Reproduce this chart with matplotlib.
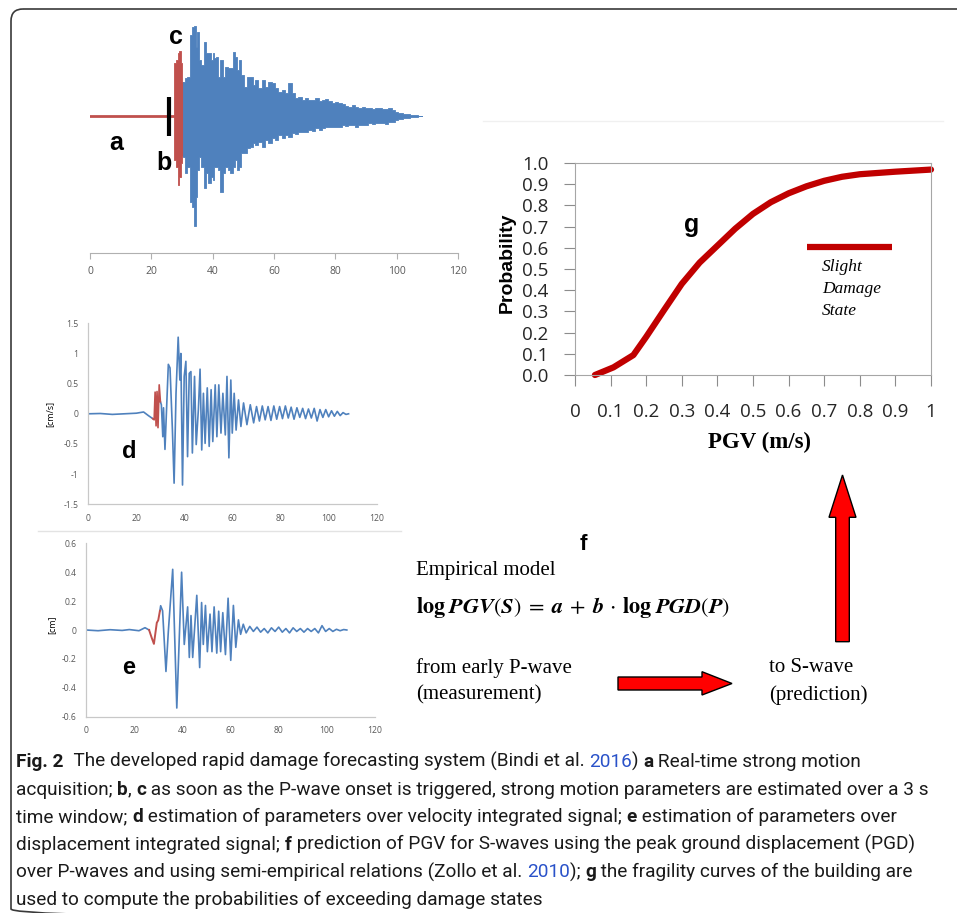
import matplotlib
matplotlib.use('Agg')
import matplotlib.pyplot as plt
from matplotlib import font_manager
from matplotlib.patches import FancyBboxPatch, Polygon
import numpy as np

# ---- data ----
# panel a/b/c: acceleration envelope (arbitrary units, 0 = baseline)
pre_t = [0, 27.2]
pre_v = [0, 0]
trigger_t = 25.8
burst_t = [27.2, 27.7, 28.3, 28.8, 29.3, 29.9, 30.4]
burst_up = [0, 52.7, 56, 62.7, 65.3, 52.7, 34]
burst_lo = [0, -44, -50.7, -69, -60.7, -47.3, -40]
env_t = [30.4, 31.3, 32.1, 32.8, 33.5, 34.2, 34.8, 35.3, 35.9, 36.7, 37.5, 38.0, 38.9, 39.7,
         40.2, 40.8, 41.5, 42.2, 42.9, 43.7, 44.6, 45.4, 46.2, 47.0, 47.6, 48.4, 48.9, 49.8,
         50.5, 51.6, 52.7, 53.3, 54.3, 55.4, 56.5, 57.6, 58.7, 59.8, 60.9, 62.0, 63.0, 64.1,
         65.2, 66.3, 67.4, 68.5, 69.6, 70.7, 71.7, 72.8, 74.1, 75.0, 76.1, 77.2, 78.3, 79.3,
         80.4, 81.5, 82.6, 83.7, 84.8, 85.9, 87.0, 88.0, 89.1, 90.2, 91.3, 92.4, 93.5, 94.6,
         95.7, 96.7, 97.8, 98.9, 100.0, 101.1, 103.3, 105.4, 108.2]
env_up = [34.3, 37.7, 39.3, 81, 89.3, 90, 69.3, 84.3, 56, 51, 74.3, 62.7, 62.7, 56,
          62.7, 57.7, 59.3, 39.3, 56, 39.3, 49.3, 47.7, 47.7, 64.3, 59.3, 46, 56, 41,
          29.3, 39.3, 39.3, 31, 36, 27.7, 36, 29.3, 34.3, 32.7, 27.7, 24.3, 26, 22.7,
          32.7, 22.7, 17.7, 18.7, 16, 17.7, 16, 16, 17.7, 15.3, 16, 16.7, 15.3, 13.3,
          14.3, 12.7, 11.7, 10, 9.3, 11, 9.3, 8, 8.7, 7.7, 7.7, 7, 7.7, 8.3,
          6.7, 7.3, 7.7, 6, 4.3, 3.3, 2, 1, 0]
env_lo = [-40.7, -57.3, -50.7, -85.7, -90.7, -110, -80.7, -54, -40.7, -50.7, -72.3, -57.3, -67.3, -60.7,
          -64, -50.7, -50.7, -54, -75.7, -57.3, -50.7, -54, -57.3, -50.7, -44, -54, -50.7, -37.3,
          -37.3, -32.3, -30.7, -27.3, -29, -25.7, -30.7, -24, -27.3, -22.3, -24, -19, -22.3, -19,
          -20.7, -17.3, -18, -15.7, -15.7, -15.7, -14, -14.7, -12.3, -14, -12.3, -11.3, -11.3, -10.7,
          -10.7, -10.7, -9, -10, -9, -9, -11.3, -9, -9, -9, -7.3, -8, -7.3, -6.7,
          -6.7, -8, -5.7, -5.7, -4, -3.3, -2.3, -1.3, 0]

# panel d: velocity [cm/s]
vel_pre_t = [0, 5, 10, 15, 20, 23, 25, 26.8]
vel_pre_v = [0, 0.005, -0.01, 0.0, 0.01, 0.03, -0.03, -0.08]
vel_red_t = [26.8, 27.4, 27.8, 28.2, 28.6, 29.0, 29.5, 30.0]
vel_red_v = [-0.08, -0.1, 0.36, -0.2, 0.37, -0.23, 0.48, 0.2]
vel_t = [30.0, 30.4, 31.0, 31.3, 31.9, 33.3, 34.0, 35.0, 35.7, 36.5, 37.4, 38.1, 38.5, 39.2,
         39.9, 40.6, 41.3, 42.0, 42.7, 43.3, 44.2, 44.9, 45.8, 46.5, 47.2, 47.9, 48.6, 49.5,
         50.3, 51.1, 51.8, 52.8, 53.5, 54.3, 55.2, 56.0, 57.0, 57.7, 58.5, 59.3, 59.9, 60.7,
         61.5, 62.5, 63.5, 64.6, 66.0, 67.4, 68.8, 70.0, 71.2, 72.4, 73.6, 74.8, 76.0, 77.2,
         78.4, 79.6, 80.8, 82.0, 83.2, 84.4, 85.6, 86.8, 88.0, 89.2, 90.4, 91.6, 92.8, 94.0,
         95.2, 96.4, 97.6, 98.8, 100.0, 101.2, 102.4, 103.6, 104.8, 106.0, 107.2, 108.3]
vel_v = [0.2, 0.15, -0.38, 0.1, -0.59, 0.82, 0.76, -0.27, -1.15, 0.34, 1.27, 0.56, 1.0, -1.18,
         0.62, 0.87, -0.71, 0.67, 0.70, -0.65, 0.62, -0.51, 0.07, 0.74, -0.60, 0.34, -0.49, 0.43,
         -0.54, 0.40, -0.46, 0.48, -0.38, 0.48, -0.32, 0.34, -0.35, 0.62, -0.73, 0.56, -0.32, 0.34,
         -0.27, 0.23, -0.21, 0.18, -0.18, 0.15, -0.15, 0.12, -0.12, 0.13, -0.10, 0.12, -0.11, 0.13,
         -0.09, 0.12, -0.08, 0.13, -0.07, 0.11, -0.09, 0.10, -0.06, 0.09, -0.08, 0.08, -0.07, 0.09,
         -0.12, 0.07, -0.06, 0.07, -0.05, 0.05, -0.04, 0.04, -0.03, 0.02, -0.01, 0.0]

# panel e: displacement [cm]
dis_pre_t = [0, 5, 10, 15, 18, 22, 24.5, 26.2]
dis_pre_v = [0, -0.005, 0.002, -0.003, 0.003, -0.005, 0.016, 0.0]
dis_red_t = [26.2, 27.2, 28.2, 29.4, 30.0, 30.7]
dis_red_v = [0.0, -0.05, -0.096, 0.05, 0.068, 0.133]
dis_t = [30.7, 31.0, 31.8, 33.2, 34.2, 36.0, 37.7, 39.7, 40.8, 42.2, 42.9, 43.6, 44.3, 46.0,
         47.2, 48.0, 48.7, 49.6, 50.4, 51.5, 52.3, 53.2, 54.3, 55.1, 55.9, 56.8, 57.9, 59.0,
         60.1, 61.2, 62.2, 63.3, 64.2, 65.3, 66.5, 68.0, 69.5, 71.0, 72.5, 74.0, 75.5, 77.0,
         78.5, 80.0, 81.5, 83.0, 84.5, 86.0, 87.5, 89.0, 90.5, 92.0, 93.5, 95.0, 96.5, 98.0,
         99.5, 101.0, 102.5, 104.0, 105.5, 107.0, 108.3]
dis_v = [0.133, 0.168, 0.133, -0.287, -0.007, 0.42, -0.54, 0.40, -0.10, 0.16, -0.19, 0.10, -0.19, 0.24,
         -0.26, 0.19, -0.10, 0.17, -0.15, 0.11, -0.15, 0.16, -0.16, 0.13, -0.15, 0.12, -0.17, 0.22,
         -0.21, 0.17, -0.12, 0.07, -0.03, 0.04, -0.02, 0.025, -0.01, 0.02, -0.015, 0.01, -0.02, 0.015,
         -0.01, 0.02, -0.015, 0.01, -0.02, 0.015, -0.01, 0.01, -0.015, 0.01, -0.01, 0.01, -0.02, 0.03,
         -0.01, 0.01, -0.01, 0.005, -0.005, 0.003, 0.0]

# panel g: fragility curve
pgv = [0.056, 0.108, 0.164, 0.2, 0.25, 0.3, 0.35, 0.4, 0.45, 0.5, 0.55, 0.6, 0.65, 0.7,
       0.75, 0.8, 0.9, 1.0]
prob = [0.0, 0.036, 0.094, 0.18, 0.306, 0.43, 0.53, 0.61, 0.69, 0.76, 0.815, 0.857, 0.89,
        0.916, 0.935, 0.947, 0.959, 0.969]

x_ticks_t = [0, 20, 40, 60, 80, 100, 120]
vel_ticks = [-1.5, -1, -0.5, 0, 0.5, 1, 1.5]
dis_ticks = [-0.6, -0.4, -0.2, 0, 0.2, 0.4, 0.6]
g_ticks = [0, 0.1, 0.2, 0.3, 0.4, 0.5, 0.6, 0.7, 0.8, 0.9, 1.0]

caption = [
    [("Fig. 2", True, 'k'), ("  The developed rapid damage forecasting system (Bindi et al. ", False, 'k'),
     ("2016", False, 'blue'), (") ", False, 'k'), ("a", True, 'k'), (" Real-time strong motion", False, 'k')],
    [("acquisition; ", False, 'k'), ("b", True, 'k'), (", ", False, 'k'), ("c", True, 'k'),
     (" as soon as the P-wave onset is triggered, strong motion parameters are estimated over a 3 s", False, 'k')],
    [("time window; ", False, 'k'), ("d", True, 'k'),
     (" estimation of parameters over velocity integrated signal; ", False, 'k'), ("e", True, 'k'),
     (" estimation of parameters over", False, 'k')],
    [("displacement integrated signal; ", False, 'k'), ("f", True, 'k'),
     (" prediction of PGV for S-waves using the peak ground displacement (PGD)", False, 'k')],
    [("over P-waves and using semi-empirical relations (Zollo et al. ", False, 'k'), ("2010", False, 'blue'),
     ("); ", False, 'k'), ("g", True, 'k'), (" the fragility curves of the building are", False, 'k')],
    [("used to compute the probabilities of exceeding damage states", False, 'k')],
]

BLUE = '#4F81BD'
RED = '#C0504D'
W, H = 957, 913

available = {f.name for f in font_manager.fontManager.ttflist}
def pick(*names):
    for n in names:
        if n in available:
            return n
    return 'DejaVu Sans'

SANS = pick('Liberation Sans', 'Arial', 'DejaVu Sans')
SERIF = pick('Liberation Serif', 'DejaVu Serif')
XL = pick('Open Sans', 'Liberation Sans')
CAP = pick('Liberation Sans Narrow', 'Roboto', 'Open Sans', 'Liberation Sans')
plt.rcParams['mathtext.fontset'] = 'stix'


def px_rect(x0, y0, x1, y1):
    return [x0 / W, 1 - y1 / H, (x1 - x0) / W, (y1 - y0) / H]


fig = plt.figure(figsize=(W / 100, H / 100), dpi=100)
ov = fig.add_axes([0, 0, 1, 1])
ov.set_xlim(0, W)
ov.set_ylim(H, 0)
ov.axis('off')

# rounded frame
ov.add_patch(FancyBboxPatch((11, 9), 990, 912, boxstyle='round,pad=0,rounding_size=12',
                            fill=False, ec='#3a3a3a', lw=1.2))
ov.plot([38, 401], [531.5, 531.5], color='#e3e3e3', lw=1)
ov.plot([483, 943], [121, 121], color='#f0f0f0', lw=1)


def excel_axes(ax):
    ax.set_facecolor('none')
    for s in ['top', 'right']:
        ax.spines[s].set_visible(False)
    for s in ['left', 'bottom']:
        ax.spines[s].set_color('#c8c8c8')
        ax.spines[s].set_linewidth(0.9)
    ax.tick_params(length=0, labelsize=6.2, labelcolor='#595959', pad=7)
    for lab in ax.get_xticklabels() + ax.get_yticklabels():
        lab.set_family(XL)


# ---- panel a/b/c ----
ax_a = fig.add_axes(px_rect(90, 20, 458, 253))
ax_a.set_facecolor('none')
ax_a.set_xlim(0, 120)
ax_a.set_ylim(-137, 96)
ax_a.plot(pre_t, pre_v, color=RED, lw=2)
ax_a.fill_between(burst_t, burst_lo, burst_up, color=RED, lw=0.6, step='mid')
ax_a.fill_between(env_t, env_lo, env_up, color=BLUE, lw=0.6, step='mid')
ax_a.vlines(trigger_t, -20, 19, color='k', lw=3)
for s in ['top', 'right', 'left']:
    ax_a.spines[s].set_visible(False)
ax_a.spines['bottom'].set_color('#b0b0b0')
ax_a.set_yticks([])
ax_a.set_xticks(x_ticks_t)
ax_a.set_xticklabels([str(v) for v in x_ticks_t], family=XL)
ax_a.tick_params(axis='x', length=4, color='#b0b0b0', labelsize=7.5, labelcolor='#595959', pad=5)

# ---- panel d ----
ax_d = fig.add_axes(px_rect(88.3, 323.3, 376.7, 504.3))
ax_d.set_xlim(0, 120)
ax_d.set_ylim(-1.5, 1.5)
ax_d.set_xticks(x_ticks_t)
ax_d.set_yticks(vel_ticks)
ax_d.set_yticklabels(['%g' % v for v in vel_ticks])
ax_d.plot(vel_pre_t, vel_pre_v, color=BLUE, lw=1.2)
ax_d.plot(vel_t, vel_v, color=BLUE, lw=1.2)
ax_d.plot(vel_red_t, vel_red_v, color=RED, lw=1.2)
excel_axes(ax_d)

# ---- panel e ----
ax_e = fig.add_axes(px_rect(86, 543.3, 375, 716.7))
ax_e.set_xlim(0, 120)
ax_e.set_ylim(-0.6, 0.6)
ax_e.set_xticks(x_ticks_t)
ax_e.set_yticks(dis_ticks)
ax_e.set_yticklabels(['%g' % v for v in dis_ticks])
ax_e.plot(dis_pre_t, dis_pre_v, color=BLUE, lw=1.2)
ax_e.plot(dis_t, dis_v, color=BLUE, lw=1.2)
ax_e.plot(dis_red_t, dis_red_v, color=RED, lw=1.4)
excel_axes(ax_e)

# ---- panel g ----
ax_g = fig.add_axes(px_rect(575, 163, 931, 375))
ax_g.set_facecolor('none')
ax_g.set_xlim(0, 1)
ax_g.set_ylim(0, 1)
ax_g.plot(pgv, prob, color='#C00000', lw=4.5, clip_on=False, solid_capstyle='round')
ax_g.set_xticks(g_ticks)
ax_g.set_xticklabels(['%g' % v for v in g_ticks], family=XL)
ax_g.set_yticks(g_ticks)
ax_g.set_yticklabels(['%.1f' % v for v in g_ticks], family=XL)
for s in ax_g.spines.values():
    s.set_color('#a6a6a6')
ax_g.tick_params(length=8, color='#8c8c8c', labelsize=13.5, labelcolor='#262626')
ax_g.tick_params(axis='y', pad=11)
ax_g.tick_params(axis='x', pad=12)
ax_g.plot([0.651, 0.890], [0.602, 0.602], color='#C00000', lw=4.5, solid_capstyle='butt')
for yy, word in zip([0.511, 0.404, 0.303], ['Slight', 'Damage', 'State']):
    ax_g.text(0.693, yy, word, family=SERIF, style='italic', fontsize=12.5, va='center')

# ---- labels on the overlay ----
for x, y, s, fs in [(116, 143, 'a', 18), (164, 163, 'b', 18), (176, 37, 'c', 18),
                    (129, 452, 'd', 17), (129, 667, 'e', 17), (583, 545, 'f', 16),
                    (692, 225, 'g', 18)]:
    ov.text(x, y, s, family=SANS, fontweight='bold', fontsize=fs, ha='center', va='center')

ov.text(50, 414, '[cm/s]', rotation=90, fontsize=6.5, family=XL, ha='center', va='center')
ov.text(52, 625, '[cm]', rotation=90, fontsize=6.5, family=XL, ha='center', va='center')
ov.text(507, 263, 'Probability', rotation=90, fontsize=14, family=SANS, fontweight='bold',
        ha='center', va='center')
ov.text(760, 442, 'PGV (m/s)', fontsize=16.5, family=SERIF, fontweight='bold', ha='center', va='center')

ov.text(416, 571, 'Empirical model', fontsize=15, family=SERIF, va='center')
ov.text(416, 607, r'$\mathbf{log}\;\mathbfit{PGV}(\mathbfit{S})\;=\;\mathbfit{a}\;+\;\mathbfit{b}\,\cdot\,'
                  r'\mathbf{log}\;\mathbfit{PGD}(\mathbfit{P})$', fontsize=16, va='center')
ov.text(416, 668, 'from early P-wave', fontsize=15, family=SERIF, va='center')
ov.text(416, 695, '(measurement)', fontsize=15, family=SERIF, va='center')
ov.text(769, 668, 'to S-wave', fontsize=15, family=SERIF, va='center')
ov.text(769, 695, '(prediction)', fontsize=15, family=SERIF, va='center')

# arrows
ov.add_patch(Polygon([(618, 677), (702, 677), (702, 671.7), (732, 683.5), (702, 695),
                      (702, 690), (618, 690)], closed=True, fc='#FF0000', ec='k', lw=1))
ov.add_patch(Polygon([(835.7, 641.7), (835.7, 517.3), (829, 517.3), (842.5, 475), (856, 517.3),
                      (849.3, 517.3), (849.3, 641.7)], closed=True, fc='#FF0000', ec='k', lw=1))

# ---- caption ----
renderer = fig.canvas.get_renderer()


def seg_width(s, bold, size):
    kw = dict(fontsize=size, family=CAP, fontweight='bold' if bold else 'normal')
    t1 = ov.text(0, 0, '|' + s + '|', **kw)
    t2 = ov.text(0, 0, '||', **kw)
    w = t1.get_window_extent(renderer).width - t2.get_window_extent(renderer).width
    t1.remove()
    t2.remove()
    return w


# fit the longest caption line to the width it has in the reference (16 -> 937 px)
line2_w = sum(seg_width(s, b, 14) for s, b, c in caption[1])
cap_size = 14 * 921 / line2_w
for i, line in enumerate(caption):
    x = 16
    y = 767 + i * 27.6
    for s, bold, col in line:
        c = '#2a52c9' if col == 'blue' else '#1a1a1a'
        ov.text(x, y, s, fontsize=cap_size, family=CAP, fontweight='bold' if bold else 'normal',
                color=c, va='baseline', ha='left')
        x += seg_width(s, bold, cap_size)

fig.savefig('out.png', dpi=100)
